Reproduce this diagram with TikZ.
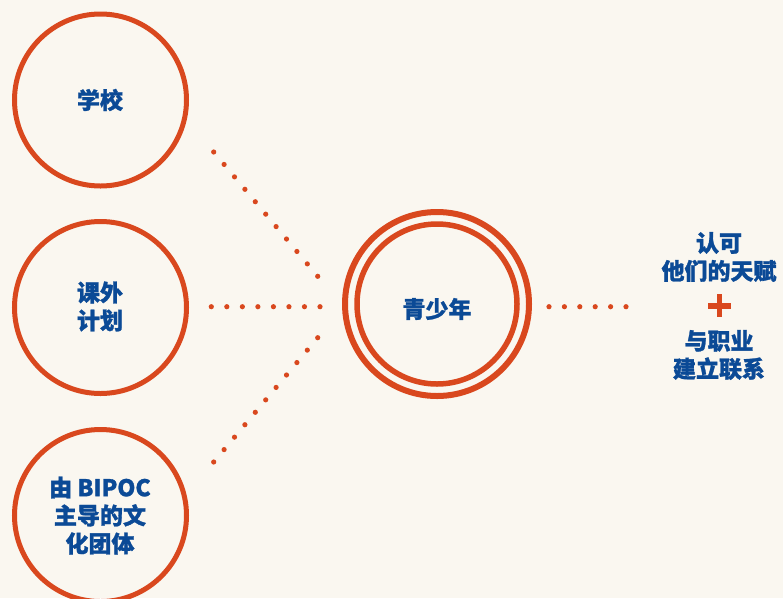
\documentclass[tikz,border=0pt]{standalone}
\usepackage{fontspec}
\usetikzlibrary{calc}
\setmainfont{Noto Sans CJK SC}[BoldFeatures={FakeBold=1.2}]
\definecolor{bg}{HTML}{FAF7F0}
\definecolor{ora}{HTML}{D9481E}
\definecolor{blu}{HTML}{0B4A96}
\begin{document}
\begin{tikzpicture}[x=1pt,y=-1pt,
  ring/.style={circle,draw=ora,line width=5pt,minimum size=172pt,inner sep=0pt},
  lbl/.style={text=blu,font=\fontsize{23}{28}\selectfont\bfseries,align=center,inner sep=0pt},
  dot/.style={fill=ora}]
\fill[bg] (0,0) rectangle (783,598);
\useasboundingbox (0,0) rectangle (783,598);
% outer circles
\node[ring] (school) at (100.5,100) {};
\node[ring] (after) at (100.5,307.5) {};
\node[ring] (bipoc) at (100.5,515.5) {};
\node[circle,draw=ora,line width=6pt,minimum size=184pt,inner sep=0pt] (youthO) at (437,304) {};
\node[circle,draw=ora,line width=5.5pt,minimum size=160pt,inner sep=0pt] (youth) at (437,304) {};
% labels
\node[lbl] (tschool) at (100,100) {学校};
\node[lbl] (tafter) at (100,306.5) {课外\\计划};
\node[lbl] (tbipoc) at (100,515.5) {由 BIPOC\\主导的文\\化团体};
\node[lbl] (tyouth) at (437,309) {青少年};
\node[lbl] (tres1) at (719,257) {认可\\他们的天赋};
\node[lbl] (tres2) at (719,355) {与职业\\建立联系};
% plus
\node[inner sep=0pt,minimum size=23pt] (plus) at (719.3,305.7) {};
\fill[ora] ($(plus.center)+(-11.5,-2.8)$) rectangle ($(plus.center)+(11.5,2.8)$);
\fill[ora] ($(plus.center)+(-2.8,-11.5)$) rectangle ($(plus.center)+(2.8,11.5)$);
% dotted connectors
\coordinate (a1) at (213.7,152);   \coordinate (a2) at (317.7,276.3);
\coordinate (b1) at (211.3,306.7); \coordinate (b2) at (320,306.7);
\coordinate (c1) at (213.7,462);   \coordinate (c2) at (317.7,337.7);
\coordinate (d1) at (549,306.7);   \coordinate (d2) at (626,306.7);
\foreach \i in {0,...,10} \fill[dot] ($(a1)!\i/10!(a2)$) circle (2.6);
\foreach \i in {0,...,7} \fill[dot] ($(b1)!\i/7!(b2)$) circle (2.6);
\foreach \i in {0,...,10} \fill[dot] ($(c1)!\i/10!(c2)$) circle (2.6);
\foreach \i in {0,...,5} \fill[dot] ($(d1)!\i/5!(d2)$) circle (2.6);
\end{tikzpicture}
\end{document}
